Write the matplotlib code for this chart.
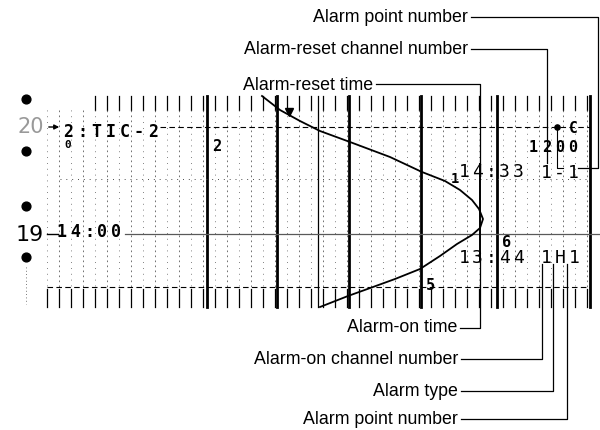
import numpy as np
import matplotlib
matplotlib.use("Agg")
from matplotlib import pyplot as plt

# pen trace of the recorder (pixel coords of the scanned chart)
curve_x = [262, 280, 300, 320, 350, 390, 422, 445, 460, 472, 479, 483,
           480, 472, 457, 440, 420, 395, 373, 348, 320]
curve_y = [97, 111, 122, 132, 143, 158, 173, 182, 191, 201, 210, 220,
           229, 236, 245, 257, 270, 280, 288, 297, 308]

# chart paper
major_x = [207, 277, 349, 421, 497, 590]
minor_x = np.arange(47, 592, 12)
hline_y = {"dash_top": 128, "dot": 180, "solid": 235, "dash_bot": 288}
perf_y = [100, 152, 207, 258]

# printed characters: (text, x of first char, y, char step, size, bold)
prints = [
    ("2:TIC-2", 68, 132, 14.2, 12, True),
    ("14:00", 62, 232, 13.5, 12, True),
    ("14:33", 464, 172, 13.5, 13, False),
    ("13:44", 464, 258, 13.5, 13, False),
    ("1200", 533, 148, 13.3, 11, True),
    ("1-1", 546, 173, 13.5, 13, False),
    ("1H1", 546, 258, 14, 13, False),
]
singles = [("0", 68, 145, 8), ("2", 217, 147, 11), ("1", 455, 179, 10),
           ("6", 507, 243, 11), ("5", 430, 286, 11), ("C", 573, 129, 10.5)]

# callouts: label, text end x, y, path of the leader line
callouts_top = [
    ("Alarm point number", 468, 18, [(471, 18), (598, 18), (598, 169), (578, 169)]),
    ("Alarm-reset channel number", 468, 50, [(471, 50), (547, 50), (547, 164)]),
    ("Alarm-reset time", 373, 85, [(376, 85), (480, 85), (480, 165)]),
]
callouts_bot = [
    ("Alarm-on time", 457, 328, [(460, 329), (480, 329), (480, 262)]),
    ("Alarm-on channel number", 458, 360, [(461, 360), (542, 360), (542, 265)]),
    ("Alarm type", 458, 392, [(461, 392), (553, 392), (553, 265)]),
    ("Alarm point number", 458, 420, [(461, 420), (567, 420), (567, 265)]),
]


def mono(ax, s, x, y, step, size, bold=True, **kw):
    for i, ch in enumerate(s):
        ax.text(x + i * step, y, ch, ha="center", va="center",
                family="DejaVu Sans Mono",
                fontweight="bold" if bold else "normal",
                fontsize=size, **kw)


fig = plt.figure(figsize=(6, 4.31), dpi=100)
ax = fig.add_axes([0, 0, 1, 1])
ax.set_xlim(0, 600)
ax.set_ylim(431, 0)
ax.axis("off")

# minor grid: ticks top and bottom, dotted between
for i, x in enumerate(minor_x):
    if x > 90:
        ax.plot([x, x], [97, 111], color="black", lw=0.9)
    ax.plot([x, x], [290, 308], color="black", lw=0.9)
    ax.plot([x, x], [111, 290], color="0.35", lw=0.6,
            ls=(0, (2, 4)) if i % 2 else (0, (1, 6)))

for x in major_x:
    ax.plot([x, x], [97, 308], color="black", lw=2.0)
ax.plot([318, 318], [97, 308], color="black", lw=0.9)

ax.plot([160, 590], [hline_y["dash_top"]] * 2, color="black", lw=0.8, ls=(0, (5, 3)))
ax.plot([60, 590], [hline_y["dot"]] * 2, color="0.3", lw=0.7, ls=(0, (1, 5)))
ax.plot([125, 600], [hline_y["solid"]] * 2, color="0.35", lw=0.9)
ax.plot([47, 58], [hline_y["solid"]] * 2, color="black", lw=1.0)
ax.plot([47, 590], [hline_y["dash_bot"]] * 2, color="black", lw=0.8, ls=(0, (5, 3)))

# perforation dots
ax.scatter([26] * len(perf_y), perf_y, s=40, color="black", zorder=3)
ax.plot([26, 26], [268, 305], color="0.3", lw=0.6, ls=(0, (1, 3)))

# pen trace
ax.plot(curve_x, curve_y, color="black", lw=1.3, zorder=4)
ax.plot([289], [113], marker="v", ms=6, color="black", zorder=5)

# chart numbers
ax.text(31, 127, "20", ha="center", va="center", family="DejaVu Sans",
        fontsize=15, color="0.6")
ax.text(30, 235, "19", ha="center", va="center", family="DejaVu Sans",
        fontsize=16, color="black")
ax.annotate("", xy=(62, 128), xytext=(46, 128),
            arrowprops=dict(arrowstyle="-|>", color="black", lw=1.0,
                            mutation_scale=7))
for s, x, y, step, size, bold in prints:
    mono(ax, s, x, y, step, size, bold)
for s, x, y, size in singles:
    mono(ax, s, x, y, 0, size)

ax.scatter([557], [128], s=14, color="black", zorder=5)
ax.plot([557, 557, 563], [128, 169, 169], color="black", lw=0.8)

# callout leaders
for label, tx, ty, path in callouts_top + callouts_bot:
    ax.text(tx, ty, label, ha="right", va="center", family="Liberation Sans",
            fontsize=12.8, color="black")
    px, py = zip(*path)
    ax.plot(px, py, color="black", lw=0.9)
ax.plot([480, 480], [165, 262], color="black", lw=1.4)

fig.savefig("out.png", dpi=100)
